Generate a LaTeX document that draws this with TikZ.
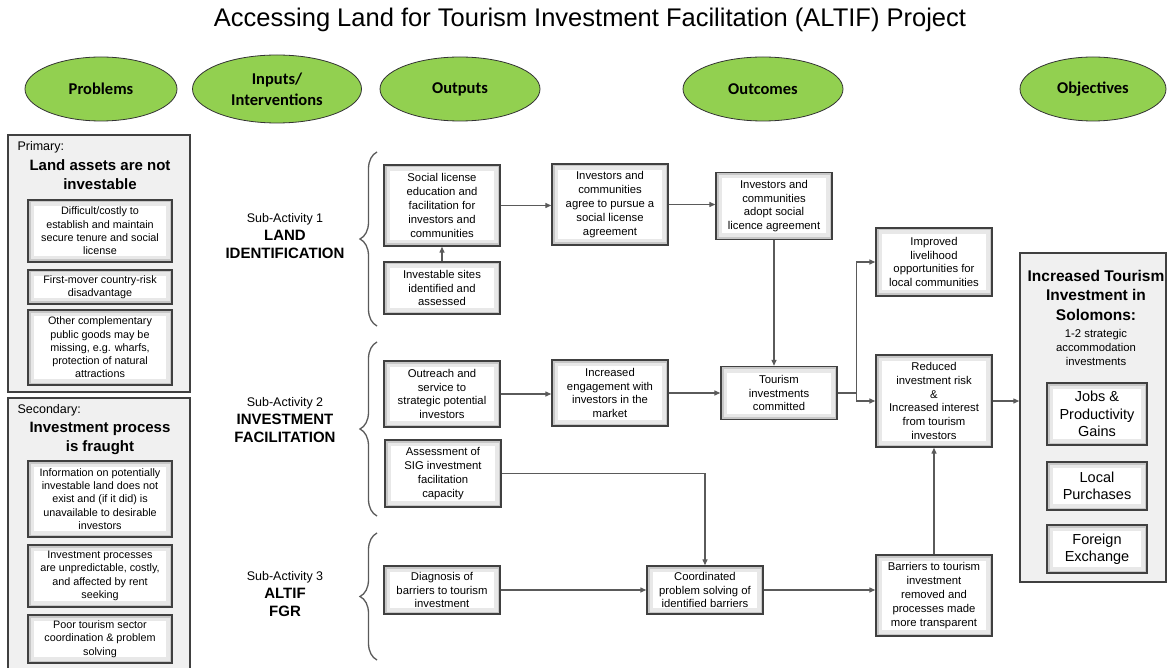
\documentclass[tikz,border=0pt]{standalone}
\usepackage{fontspec}
\setmainfont{Liberation Sans}
\newfontfamily\headfont{Carlito}
\usetikzlibrary{arrows.meta,shapes.geometric,decorations.pathreplacing}
\definecolor{leaf}{RGB}{146,208,80}
\definecolor{panelgray}{RGB}{240,240,240}
\definecolor{edgegray}{RGB}{64,64,64}
\definecolor{linegray}{RGB}{90,90,90}
\tikzset{>/.tip={Triangle[length=6pt,width=5pt]},
  stage/.style={ellipse, draw=black!80, line width=0.8pt, fill=leaf, align=center, inner sep=0pt,
    minimum height=64pt, font=\headfont\bfseries\fontsize{16.5}{21}\selectfont},
  glow/.style={path picture={
    \draw[black!9,line width=12pt] (path picture bounding box.south west) rectangle (path picture bounding box.north east);
    \draw[black!22,line width=5pt] (path picture bounding box.south west) rectangle (path picture bounding box.north east);}},
  stepbox/.style={draw=edgegray, line width=1.4pt, fill=white, glow, align=center, inner sep=1pt,
    minimum width=116pt, font=\fontsize{11.3}{13.8}\selectfont},
  probbox/.style={stepbox, minimum width=144pt, font=\fontsize{10.8}{13.3}\selectfont},
  goalbox/.style={stepbox, minimum width=100pt, font=\fontsize{14.5}{17.5}\selectfont},
  panel/.style={draw=edgegray, line width=1.5pt, fill=panelgray},
  heading/.style={align=center, font=\bfseries\fontsize{15}{19}\selectfont},
  subact/.style={align=center, font=\bfseries\fontsize{15}{18}\selectfont},
  flow/.style={->, draw=linegray, line width=1.3pt},
  bracket/.style={draw=linegray, line width=1.3pt, decorate, decoration={brace,amplitude=17pt}}}

\begin{document}
\begin{tikzpicture}[x=1pt,y=-1pt]
\useasboundingbox (0,0) rectangle (1167,668);
\node[font=\fontsize{25.5}{30}\selectfont] (title) at (590,20) {Accessing Land for Tourism Investment Facilitation (ALTIF) Project};

% column heads
\node[stage, minimum width=152pt] (prob) at (101,89)  {Problems};
\node[stage, minimum width=169pt, minimum height=68pt] (inp) at (277,89) {Inputs/\\Interventions};
\node[stage, minimum width=160pt] (outp) at (460,89)  {Outputs};
\node[stage, minimum width=160pt] (outc) at (763,89)  {Outcomes};
\node[stage, minimum width=146pt] (obj)  at (1093,89) {Objectives};

% problems
\node[panel, minimum width=182pt, minimum height=257pt] (prim) at (99,263.5) {};
\node[anchor=west, font=\fontsize{12.5}{15}\selectfont] (primlab) at (14,147) {Primary:};
\node[heading] (primhead) at (100,175) {Land assets are not\\investable};
\node[probbox, minimum height=62pt] (p1) at (100,231) {Difficult/costly to\\establish and maintain\\secure tenure and social\\license};
\node[probbox, minimum height=34pt] (p2) at (100,287) {First-mover country-risk\\disadvantage};
\node[probbox, minimum height=75pt] (p3) at (100,347.5) {Other complementary\\public goods may be\\missing, e.g. wharfs,\\protection of natural\\attractions};

\node[panel, minimum width=182pt, minimum height=280pt] (sec) at (99,538) {};
\node[anchor=west, font=\fontsize{12.5}{15}\selectfont] (seclab) at (14,410) {Secondary:};
\node[heading] (sechead) at (100,438) {Investment process\\is fraught};
\node[probbox, minimum height=76pt] (s1) at (100,499) {Information on potentially\\investable land does not\\exist and (if it did) is\\unavailable to desirable\\investors};
\node[probbox, minimum height=62pt] (s2) at (100,576) {Investment processes\\are unpredictable, costly,\\and affected by rent\\seeking};
\node[probbox, minimum height=48pt] (s3) at (100,639) {Poor tourism sector\\coordination \& problem\\solving};

% sub-activities
\node[subact] (sa1) at (285,236) {{\mdseries\fontsize{12.5}{17}\selectfont Sub-Activity 1}\\LAND\\IDENTIFICATION};
\node[subact] (sa2) at (285,420) {{\mdseries\fontsize{12.5}{17}\selectfont Sub-Activity 2}\\INVESTMENT\\FACILITATION};
\node[subact] (sa3) at (285,594) {{\mdseries\fontsize{12.5}{17}\selectfont Sub-Activity 3}\\ALTIF\\FGR};
\draw[bracket] (377,326) -- (377,152);
\draw[bracket] (377,516) -- (377,342);
\draw[bracket] (377,660) -- (377,533);

% outputs and outcomes
\node[stepbox, minimum height=81pt] (soc)    at (442,205.5) {Social license\\education and\\facilitation for\\investors and\\communities};
\node[stepbox, minimum height=52pt] (site)   at (442,288)   {Investable sites\\identified and\\assessed};
\node[stepbox, minimum height=81pt] (agree)  at (610,204.5) {Investors and\\communities\\agree to pursue a\\social license\\agreement};
\node[stepbox, minimum height=67pt] (adopt)  at (774,206)   {Investors and\\communities\\adopt social\\licence agreement};
\node[stepbox, minimum height=66pt] (reach)  at (442,394)   {Outreach and\\service to\\strategic potential\\investors};
\node[stepbox, minimum height=66pt] (engage) at (610,393)   {Increased\\engagement with\\investors in the\\market};
\node[stepbox, minimum height=53pt] (commit) at (779,393)   {Tourism\\investments\\committed};
\node[stepbox, minimum height=67pt] (assess) at (443,473.5) {Assessment of\\SIG investment\\facilitation\\capacity};
\node[stepbox, minimum height=48pt] (diag)   at (442,590)   {Diagnosis of\\barriers to tourism\\investment};
\node[stepbox, minimum height=48pt] (coord)  at (705,590)   {Coordinated\\problem solving of\\identified barriers};
\node[stepbox, minimum height=81pt] (barr)   at (934,595.5) {Barriers to tourism\\investment\\removed and\\processes made\\more transparent};
\node[stepbox, minimum height=92pt] (reduce) at (934,401)   {Reduced\\investment risk\\\&\\Increased interest\\from tourism\\investors};
\node[stepbox, minimum height=68pt] (improve) at (934,262)  {Improved\\livelihood\\opportunities for\\local communities};

% objectives
\node[panel, minimum width=146pt, minimum height=329pt] (goal) at (1093,417.5) {};
\node[heading, font=\bfseries\fontsize{15.5}{19.5}\selectfont] (goalhead) at (1096,295) {Increased Tourism\\Investment in\\Solomons:};
\node[align=center, font=\fontsize{11.3}{14}\selectfont] (goalsub) at (1096,347) {1-2 strategic\\accommodation\\investments};
\node[goalbox, minimum height=62pt] (jobs)  at (1097,414) {Jobs \&\\Productivity\\Gains};
\node[goalbox, minimum height=48pt] (local) at (1097,486) {Local\\Purchases};
\node[goalbox, minimum height=48pt] (forex) at (1097,549) {Foreign\\Exchange};

% connectors
\draw[flow] (site) -- (soc);
\draw[flow] (soc.east) -- (soc.east -| agree.west);
\draw[flow] (agree.east) -- (agree.east -| adopt.west);
\draw[flow] (adopt.south) -- (adopt.south |- commit.north);
\draw[flow] (reach.east) -- (reach.east -| engage.west);
\draw[flow] (engage.east) -- (engage.east -| commit.west);
\draw[flow] (commit.east) -- ++(19,0) |- (improve.west);
\draw[flow] (commit.east) -- ++(19,0) |- (reduce.west);
\draw[flow] (assess.east) -| (coord.north);
\draw[flow] (diag.east) -- (diag.east -| coord.west);
\draw[flow] (coord.east) -- (coord.east -| barr.west);
\draw[flow] (barr.north) -- (reduce.south);
\draw[flow] (reduce.east) -- (reduce.east -| goal.west);
\end{tikzpicture}
\end{document}
